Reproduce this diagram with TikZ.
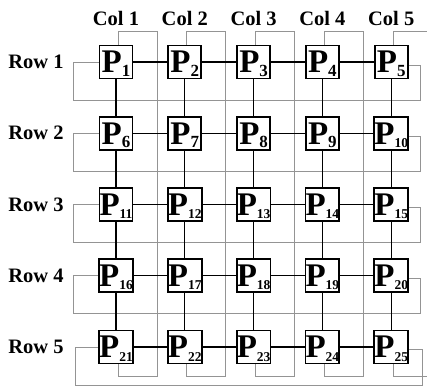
\documentclass[tikz,border=0pt]{standalone}
\usepackage{fontspec}
\setmainfont{Liberation Serif}
\usetikzlibrary{backgrounds}
\begin{document}
\begin{tikzpicture}[x=1pt,y=-1pt,
  pe/.style={draw=black,line width=1.8pt,fill=white,minimum size=33pt,inner sep=0pt,text depth=0pt},
  link/.style={black,line width=1.3pt},
  ring/.style={draw=black!42,line width=1pt},
  lab/.style={font=\fontsize{20.5}{20.5}\selectfont\bfseries}]
\useasboundingbox (0,0) rectangle (427,389);
\clip (0,0) rectangle (427,389);
\foreach \r in {1,...,5}{
  \foreach \c in {1,...,5}{
    \pgfmathtruncatemacro\n{5*(\r-1)+\c}
    \pgfmathsetmacro\cx{116+68.8*(\c-1)}
    \pgfmathsetmacro\cy{62+71.25*(\r-1)}
    \node[pe] (P\n) at (\cx,\cy) {{\fontsize{33}{33}\selectfont\bfseries P}\raisebox{-3.2pt}{\ifnum\n<10 \fontsize{17}{17}\selectfont\else\fontsize{13.5}{13.5}\selectfont\fi\bfseries \n}};
  }
}
% labels
\foreach \r in {1,...,5}{
  \pgfmathsetmacro\cy{62+71.25*(\r-1)}
  \node[lab] (R\r) at (36,\cy) {Row \r};
}
\foreach \c in {1,...,5}{
  \pgfmathsetmacro\cx{116+68.8*(\c-1)}
  \node[lab] (C\c) at (\cx,18) {Col \c};
}
% black links
\foreach \r in {1,...,5}{
  \foreach \c in {1,...,4}{
    \pgfmathtruncatemacro\a{5*(\r-1)+\c}
    \pgfmathtruncatemacro\b{\a+1}
    \draw[link] (P\a.east) -- (P\b.west);
  }
}
\foreach \r in {1,...,4}{
  \foreach \c in {1,...,5}{
    \pgfmathtruncatemacro\a{5*(\r-1)+\c}
    \pgfmathtruncatemacro\b{\a+5}
    \draw[link] (P\a.south) -- (P\b.north);
  }
}
% wraparound rings
\begin{pgfonlayer}{background}
\foreach \r in {1,...,4}{
  \pgfmathtruncatemacro\i{5*(\r-1)+1}
  \pgfmathtruncatemacro\j{\i+4}
  \pgfmathsetmacro\cy{62+71.25*(\r-1)}
  \draw[ring] (P\i.west) -- (73,\cy) -- (73,\cy+38) -- (420,\cy+38) -- (420,\cy+3) -- ([yshift=-3pt]P\j.east);
}
\draw[ring] (P21.west) -- (75,347) -- (75,385) -- (422,385) -- (422,349) -- ([yshift=-2pt]P25.east);
\foreach \c in {1,...,5}{
  \pgfmathtruncatemacro\k{20+\c}
  \pgfmathsetmacro\cx{116+68.8*(\c-1)}
  \draw[ring] ([xshift=2pt]P\c.north) |- (\cx+41,31) -- (\cx+41,376) -| ([xshift=2pt]P\k.south);
}
\end{pgfonlayer}
\end{tikzpicture}
\end{document}
